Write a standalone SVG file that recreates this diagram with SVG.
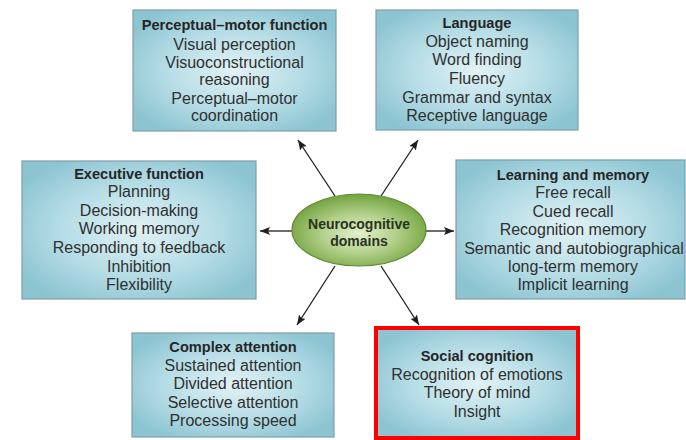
<svg xmlns="http://www.w3.org/2000/svg" width="686" height="440" viewBox="0 0 686 440">
<defs>
<radialGradient id="boxg" cx="50%" cy="50%" r="60%">
<stop offset="0" stop-color="#e2f2f5"/>
<stop offset="0.55" stop-color="#b6dde6"/>
<stop offset="1" stop-color="#8cc4d2"/>
</radialGradient>
<radialGradient id="ellg" cx="50%" cy="55%" r="55%">
<stop offset="0" stop-color="#e4efcf"/>
<stop offset="0.5" stop-color="#b2d08a"/>
<stop offset="1" stop-color="#72a33e"/>
</radialGradient>
<marker id="ah" viewBox="0 0 10 8" refX="10" refY="4" markerWidth="10" markerHeight="8" markerUnits="userSpaceOnUse" orient="auto">
<path d="M0,0 L10,4 L0,8 L2,4 Z" fill="#1e1e1e"/>
</marker>
<style>
.box{fill:url(#boxg);stroke:#7d9ea8;stroke-width:1.2}
text{font-family:"Liberation Sans",Arial,sans-serif;text-anchor:middle;fill:#303030;font-size:16px}
.t{font-weight:bold;font-size:14.6px;fill:#262626}
.e{font-weight:bold;font-size:14px;fill:#2a3320}
.c{stroke:#1e1e1e;stroke-width:1.3;fill:none;marker-end:url(#ah)}
</style>
</defs>
<rect width="686" height="440" fill="#ffffff"/>
<g id="connectors">
<line class="c" x1="335" y1="196" x2="298" y2="140"/>
<line class="c" x1="381" y1="196" x2="418" y2="140"/>
<line class="c" x1="292" y1="231" x2="260" y2="231"/>
<line class="c" x1="426" y1="231" x2="454" y2="231"/>
<line class="c" x1="335" y1="266" x2="297" y2="325"/>
<line class="c" x1="381" y1="266" x2="419" y2="325"/>
</g>
<g id="perceptual">
<rect class="box" x="133" y="10" width="203" height="121"/>
<text class="t" x="234.5" y="30">Perceptual–motor function</text>
<text x="234.5" y="50">Visual perception</text>
<text x="234.5" y="68">Visuoconstructional</text>
<text x="234.5" y="85">reasoning</text>
<text x="234.5" y="104">Perceptual–motor</text>
<text x="234.5" y="121">coordination</text>
</g>
<g id="language">
<rect class="box" x="376" y="10" width="202" height="120"/>
<text class="t" x="477" y="28">Language</text>
<text x="477" y="47">Object naming</text>
<text x="477" y="65">Word finding</text>
<text x="477" y="84">Fluency</text>
<text x="477" y="103">Grammar and syntax</text>
<text x="477" y="121">Receptive language</text>
</g>
<g id="executive">
<rect class="box" x="22" y="161" width="234" height="138"/>
<text class="t" x="139" y="179">Executive function</text>
<text x="139" y="197">Planning</text>
<text x="139" y="216">Decision-making</text>
<text x="139" y="234">Working memory</text>
<text x="139" y="253">Responding to feedback</text>
<text x="139" y="272">Inhibition</text>
<text x="139" y="290">Flexibility</text>
</g>
<g id="learning">
<rect class="box" x="456" y="160" width="229" height="139"/>
<text class="t" x="573" y="180">Learning and memory</text>
<text x="573" y="198">Free recall</text>
<text x="573" y="217">Cued recall</text>
<text x="573" y="235">Recognition memory</text>
<text x="574" y="254">Semantic and autobiographical</text>
<text x="573" y="272">long-term memory</text>
<text x="573" y="290">Implicit learning</text>
</g>
<g id="attention">
<rect class="box" x="132" y="333" width="202" height="104"/>
<text class="t" x="233" y="352">Complex attention</text>
<text x="233" y="371">Sustained attention</text>
<text x="233" y="389">Divided attention</text>
<text x="233" y="408">Selective attention</text>
<text x="233" y="426">Processing speed</text>
</g>
<g id="social">
<rect class="box" x="377" y="329" width="200" height="108"/>
<rect x="376" y="328" width="202" height="110" fill="none" stroke="#ff0000" stroke-width="4"/>
<text class="t" x="477" y="361">Social cognition</text>
<text x="477" y="380">Recognition of emotions</text>
<text x="477" y="398">Theory of mind</text>
<text x="477" y="417">Insight</text>
</g>
<g id="center">
<ellipse cx="359" cy="230" rx="67" ry="36" fill="url(#ellg)" stroke="#5f8a35" stroke-width="1.2"/>
<text class="e" x="359" y="229">Neurocognitive</text>
<text class="e" x="359" y="246">domains</text>
</g>
</svg>
